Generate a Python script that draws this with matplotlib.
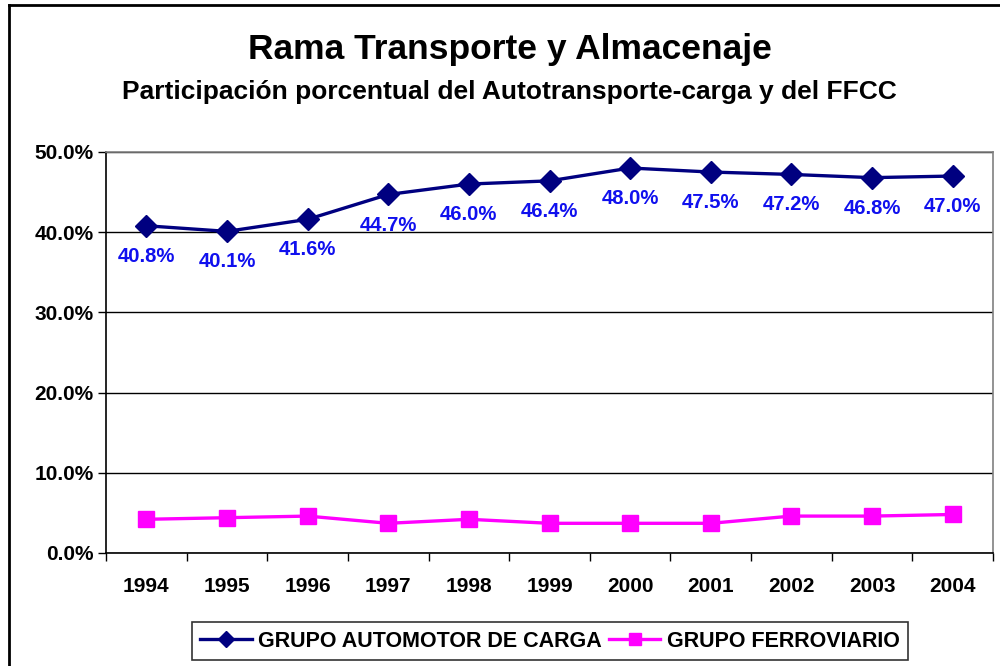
import matplotlib
matplotlib.use("Agg")
import matplotlib.pyplot as plt
from matplotlib.lines import Line2D
from matplotlib.ticker import FuncFormatter, MultipleLocator

years = ["1994", "1995", "1996", "1997", "1998", "1999", "2000", "2001", "2002", "2003", "2004"]
automotor = [40.8, 40.1, 41.6, 44.7, 46.0, 46.4, 48.0, 47.5, 47.2, 46.8, 47.0]
ferroviario = [4.2, 4.4, 4.6, 3.7, 4.2, 3.7, 3.7, 3.7, 4.6, 4.6, 4.8]

title = "Rama Transporte y Almacenaje"
subtitle = "Participación porcentual del Autotransporte-carga y del FFCC"
series_names = ["GRUPO AUTOMOTOR DE CARGA", "GRUPO FERROVIARIO"]

plt.rcParams['font.family'] = ['Liberation Sans', 'DejaVu Sans']

fig = plt.figure(figsize=(10, 6.66), dpi=100)
ax = fig.add_axes([0.106, 0.1697, 0.887, 0.6021])

x = list(range(len(years)))
ax.plot(x, automotor, color="#000080", lw=2.4, marker="D", ms=11,
        label=series_names[0], zorder=4)
ax.plot(x, ferroviario, color="#FF00FF", lw=2.4, marker="s", ms=11,
        label=series_names[1], zorder=4)

for xi, v in zip(x, automotor):
    ax.annotate(f"{v:.1f}%", (xi, v), xytext=(0, -22), textcoords="offset points",
                ha="center", va="center", color="#1010EE", fontsize=14.6,
                fontweight="bold", zorder=5)

ax.set_xlim(-0.5, len(years) - 0.5)
ax.set_ylim(0, 50)
ax.yaxis.set_major_locator(MultipleLocator(10))
ax.yaxis.set_major_formatter(FuncFormatter(lambda v, p: f"{v:.1f}%"))
ax.set_xticks(x)
ax.set_xticklabels(years)
ax.set_xticks([i - 0.5 for i in range(len(years) + 1)], minor=True)
ax.tick_params(axis="x", which="major", length=0, pad=17, labelsize=15)
ax.tick_params(axis="x", which="minor", length=6, width=1, direction="out")
ax.tick_params(axis="y", length=6, width=1, direction="out", labelsize=15, pad=3)
for lab in ax.get_xticklabels() + ax.get_yticklabels():
    lab.set_fontweight("bold")

ax.grid(axis="y", color="black", lw=1)
ax.set_axisbelow(True)
ax.spines["left"].set_color("black")
ax.spines["bottom"].set_color("black")
ax.spines["top"].set_color("#808080")
ax.spines["right"].set_color("#808080")
for s in ax.spines.values():
    s.set_linewidth(1.2)

fig.text(0.51, 0.925, title, ha="center", va="center", fontsize=25.5, fontweight="bold")
fig.text(0.509, 0.862, subtitle, ha="center", va="center", fontsize=19, fontweight="bold")

leg = fig.legend(loc="center", bbox_to_anchor=(0.55, 0.0375), ncol=2, frameon=True,
                 fancybox=False, edgecolor="black", handlelength=2.4,
                 handletextpad=0.3, columnspacing=0.3, borderpad=0.4,
                 prop={"weight": "bold", "size": 15.5})
leg.get_frame().set_linewidth(1.2)
for h in leg.legend_handles:
    h.set_markersize(8)

fig.add_artist(Line2D([0.009, 0.009], [0, 1 - 5/666], color="black", lw=2,
                      transform=fig.transFigure))
fig.add_artist(Line2D([0.009, 1.0], [1 - 5/666, 1 - 5/666], color="black", lw=2,
                      transform=fig.transFigure))

fig.savefig("out.png", dpi=100)
